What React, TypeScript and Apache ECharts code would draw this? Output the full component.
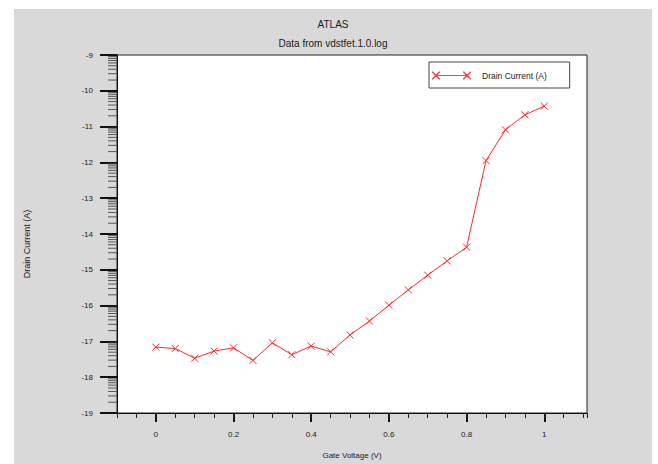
import React, { useEffect, useRef } from "react";
import * as echarts from "echarts";

const titleText = "ATLAS";
const subtitleText = "Data from vdstfet.1.0.log";
const seriesName = "Drain Current (A)";
const xAxisName = "Gate Voltage (V)";
const yAxisName = "Drain Current (A)";

const gateVoltage = [0, 0.05, 0.1, 0.15, 0.2, 0.25, 0.3, 0.35, 0.4, 0.45, 0.5, 0.55, 0.6, 0.65, 0.7, 0.75, 0.8, 0.85, 0.9, 0.95, 1.0];
const drainCurrent = [-17.16, -17.2, -17.47, -17.27, -17.18, -17.53, -17.04, -17.37, -17.13, -17.29, -16.82, -16.43, -15.99, -15.56, -15.15, -14.75, -14.37, -11.95, -11.09, -10.67, -10.43];

const xMajorTicks = [0, 0.2, 0.4, 0.6, 0.8, 1];
const yDecades = [-19, -18, -17, -16, -15, -14, -13, -12, -11, -10];
const logMultipliers = [2, 3, 4, 5, 6, 7, 8, 9];

const FONT = "'Liberation Sans', Arial, sans-serif";
const TEXT = "#1a1a1a";

const LEGEND_ICON =
  "path://M0,0L1,0L8,7L8,8L7,8L0,1Z" +
  "M8,0L8,1L1,8L0,8L0,7L7,0Z" +
  "M4,3.5L35,3.5L35,4.5L4,4.5Z" +
  "M31,0L32,0L39,7L39,8L38,8L31,1Z" +
  "M39,0L39,1L32,8L31,8L31,7L38,0Z";

export default function App() {
  const ref = useRef<HTMLDivElement>(null);

  useEffect(() => {
    if (!ref.current) return;
    const chart = echarts.init(ref.current, undefined, { renderer: "svg" });

    const xMin = -0.1;
    const xMax = 1.11;

    const minorY: number[][] = [];
    yDecades.forEach((d) => {
      logMultipliers.forEach((k) => {
        minorY.push([xMin, d + Math.log10(k)]);
      });
    });

    const lineData = gateVoltage.map((x, i) => [x, drainCurrent[i]]);

    chart.setOption({
      animation: false,
      backgroundColor: "#d9d9d9",
      title: [
        {
          text: titleText,
          left: "center",
          top: 10,
          padding: 0,
          textStyle: { fontFamily: FONT, fontSize: 10, fontWeight: "normal", color: TEXT },
        },
        {
          text: subtitleText,
          left: "center",
          top: 29,
          padding: 0,
          textStyle: { fontFamily: FONT, fontSize: 10, fontWeight: "normal", color: TEXT },
        },
      ],
      legend: {
        data: [seriesName],
        left: 415,
        top: 53,
        orient: "horizontal",
        padding: [9, 23, 8, 3],
        backgroundColor: "#ffffff",
        borderColor: "#444",
        borderWidth: 1,
        borderRadius: 0,
        itemWidth: 39,
        itemHeight: 8,
        icon: LEGEND_ICON,
        itemStyle: { color: "#ff4040", borderWidth: 0 },
        textStyle: { fontFamily: FONT, fontSize: 8.5, color: TEXT, padding: [0, 0, 0, 6] },
        selectedMode: false,
      },
      grid: {
        left: 102,
        top: 46,
        right: 65,
        bottom: 51,
        show: true,
        backgroundColor: "#ffffff",
        borderColor: "#222",
        borderWidth: 1,
      },
      xAxis: [
        {
          type: "value",
          min: xMin,
          max: xMax,
          position: "bottom",
          name: xAxisName,
          nameLocation: "middle",
          nameGap: 38,
          nameTextStyle: { fontFamily: FONT, fontSize: 8, color: TEXT },
          axisLine: { show: true, onZero: false, lineStyle: { color: "#111", width: 1 } },
          axisTick: { show: true, inside: false, length: 9, lineStyle: { color: "#111", width: 2 }, customValues: xMajorTicks },
          axisLabel: { show: true, margin: 17, fontFamily: FONT, fontSize: 8, color: TEXT, customValues: xMajorTicks },
          splitLine: { show: false },
        },
        {
          type: "value",
          min: xMin,
          max: xMax,
          interval: 0.05,
          position: "bottom",
          axisLine: { show: false, onZero: false },
          axisTick: { show: true, inside: false, length: 5, lineStyle: { color: "#222", width: 1 } },
          axisLabel: { show: false },
          splitLine: { show: false },
        },
      ],
      yAxis: {
        type: "value",
        min: -19,
        max: -9,
        interval: 1,
        name: yAxisName,
        nameLocation: "middle",
        nameGap: 86,
        nameTextStyle: { fontFamily: FONT, fontSize: 9, color: TEXT, padding: [0, 20, 0, 0] },
        axisLine: { show: true, onZero: false, lineStyle: { color: "#111", width: 1 } },
        axisTick: { show: true, inside: false, length: 17, lineStyle: { color: "#111", width: 2 } },
        axisLabel: { show: true, margin: 24, fontFamily: FONT, fontSize: 8, color: TEXT },
        splitLine: { show: false },
      },
      series: [
        {
          type: "custom",
          name: "minorTicks",
          xAxisIndex: 0,
          yAxisIndex: 0,
          silent: true,
          clip: false,
          data: minorY,
          renderItem: (params: any, api: any) => {
            const p = api.coord([api.value(0), api.value(1)]);
            return {
              type: "line",
              shape: { x1: p[0] - 9, y1: p[1], x2: p[0], y2: p[1] },
              style: { stroke: "#555", lineWidth: 1 },
            };
          },
        },
        {
          type: "line",
          name: seriesName,
          xAxisIndex: 0,
          yAxisIndex: 0,
          data: lineData,
          symbol: "path://M0,0L8,8M8,0L0,8",
          symbolSize: 7,
          lineStyle: { color: "#ff2a2a", width: 1 },
          itemStyle: { color: "#ff2a2a", borderColor: "#ff2a2a", borderWidth: 1 },
          emphasis: { disabled: true },
        },
      ],
    });

    return () => {
      chart.dispose();
    };
  }, []);

  return (
    <div style={{ position: "absolute", left: 0, top: 0, width: 658, height: 464, background: "#ffffff" }}>
      <div ref={ref} style={{ position: "absolute", left: 14, top: 9, width: 638, height: 455 }} />
    </div>
  );
}
